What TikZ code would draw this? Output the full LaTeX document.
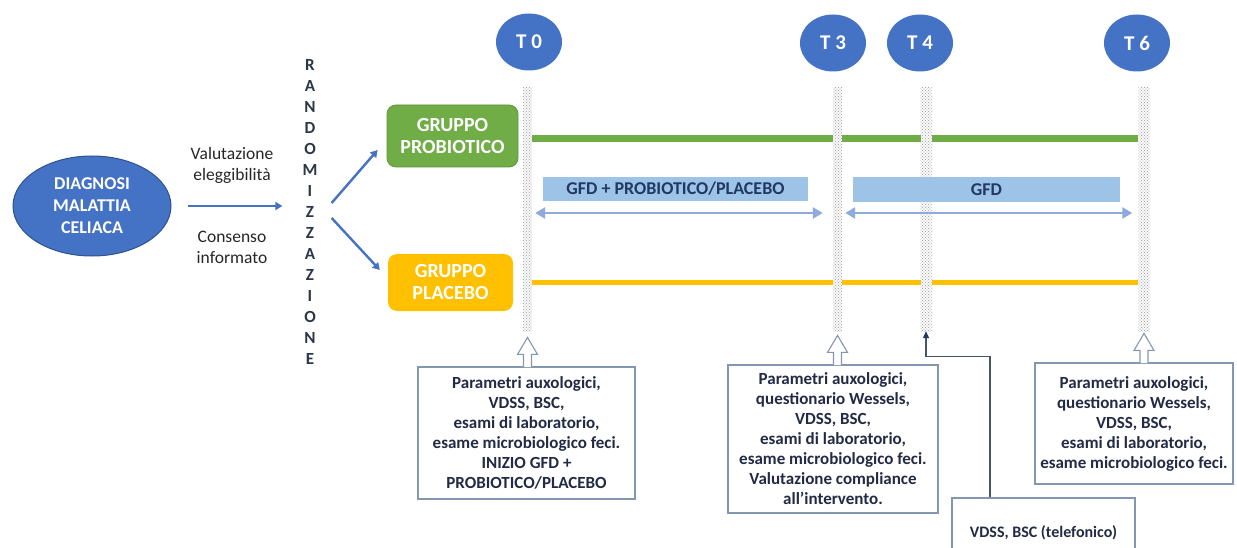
\documentclass[tikz,border=0pt]{standalone}
\usepackage{fontspec}
\setmainfont{Carlito}
\usetikzlibrary{arrows.meta,patterns,shapes.geometric,calc}

\definecolor{ofblue}{HTML}{4472C4}
\definecolor{ofblueline}{HTML}{2F528F}
\definecolor{grgreen}{HTML}{70AD47}
\definecolor{grgreenline}{HTML}{5E9639}
\definecolor{gryellow}{HTML}{FFC000}
\definecolor{lblue}{HTML}{9DC3E6}
\definecolor{navy}{HTML}{1F3864}
\definecolor{arrblue}{HTML}{8FAADC}
\definecolor{boxline}{HTML}{8497B0}
\definecolor{boxtext}{HTML}{222A45}
\definecolor{randtext}{HTML}{2B3646}
\definecolor{labeltext}{HTML}{262626}
\definecolor{connline}{HTML}{44546A}

% dot texture for the visit markers
\pgfdeclarepatternformonly{finedots}{\pgfqpoint{-0.8pt}{-0.8pt}}{\pgfqpoint{2.3pt}{2.3pt}}{\pgfqpoint{3pt}{3pt}}%
  {\pgfpathcircle{\pgfqpoint{0pt}{0pt}}{0.7pt}\pgfpathcircle{\pgfqpoint{1.5pt}{1.5pt}}{0.7pt}\pgfusepath{fill}}

\tikzset{
  lbl/.style={text=labeltext, align=center, inner sep=0pt,
    font=\fontsize{17.5}{21}\selectfont},
  grpbox/.style={rounded corners=9pt, text=white, align=center, inner sep=0pt,
    font=\bfseries\fontsize{20}{22}\selectfont},
  flow/.style={draw=ofblue, line width=2.4pt, -{Triangle[length=7pt,width=8pt]}},
  tbar/.style={inner sep=0pt, preaction={fill=white}, pattern=finedots,
    pattern color=gray!70},
  track/.style={line width=#1},
  phase/.style={fill=lblue, text=navy, inner sep=0pt,
    font=\bfseries\fontsize{18}{22}\selectfont},
  span/.style={draw=arrblue, line width=2.6pt,
    {Triangle[length=10pt,width=11pt]}-{Triangle[length=10pt,width=11pt]}},
  timept/.style={ellipse, fill=ofblue, minimum width=66pt, minimum height=57pt,
    inner sep=0pt, text=white, font=\bfseries\fontsize{21}{24}\selectfont},
  note/.style={draw=boxline, line width=1.2pt, fill=white, text=boxtext,
    align=center, inner sep=0pt, font=\bfseries\fontsize{17}{20}\selectfont},
  hollow/.style={draw=boxline, line width=1.1pt, fill=white},
  conn/.style={draw=connline, line width=1.3pt,
    -{Triangle[length=7pt,width=6pt,color=navy]}}
}

\begin{document}
\begin{tikzpicture}[x=1pt,y=-1pt]
\useasboundingbox (0,0) rectangle (1237,548);
\clip (0,0) rectangle (1237,548);

% enrolment
\node[ellipse, fill=ofblue, draw=ofblueline, line width=1pt, minimum width=158pt,
  minimum height=100pt, inner sep=0pt, text=white, align=center,
  font=\bfseries\fontsize{18}{22}\selectfont] (diag) at (92,206)
  {DIAGNOSI\\MALATTIA\\CELIACA};
\node[lbl] (val) at (232,165) {Valutazione\\eleggibilità};
\node[lbl] (cons) at (232,247) {Consenso\\informato};
\node[text=randtext, align=center, inner sep=0pt,
  font=\bfseries\fontsize{17}{21}\selectfont] (rand) at (310,212)
  {R\\A\\N\\D\\O\\M\\I\\Z\\Z\\A\\Z\\I\\O\\N\\E};

% study arms
\node[grpbox, fill=grgreen, draw=grgreenline, line width=0.8pt,
  minimum width=131pt, minimum height=62pt] (gp) at (452.5,136) {GRUPPO\\PROBIOTICO};
\node[grpbox, fill=gryellow, minimum width=125pt, minimum height=57pt]
  (gy) at (450.5,282.5) {GRUPPO\\PLACEBO};

\draw[flow, shorten <=16pt, shorten >=20pt] (diag.east) -- (diag.east -| rand.west);
\draw[flow] ([shift={(14,-9)}]rand.east) -- ([shift={(-9,14)}]gp.west);
\draw[flow] ([shift={(14,6)}]rand.east) -- ([shift={(-8,-12.5)}]gy.west);

% treatment tracks
\draw[track=7pt, grgreen] (531,139) -- (1138,139);
\draw[track=5pt, gryellow] (531,282) -- (1138,282);

% visit markers
\node[tbar, minimum width=9pt, minimum height=244pt] (bar0) at (527.5,209) {};
\node[tbar, minimum width=9pt, minimum height=244pt] (bar3) at (837.5,209) {};
\node[tbar, minimum width=11pt, minimum height=244pt] (bar4) at (926,209) {};
\node[tbar, minimum width=11pt, minimum height=244pt] (bar6) at (1144,209) {};

% visit labels
\node[timept] (t0) at (529,42) {T 0};
\node[timept] (t3) at (833,43) {T 3};
\node[timept] (t4) at (920,43) {T 4};
\node[timept] (t6) at (1137,43) {T 6};

% treatment phases
\node[phase, minimum width=265pt, minimum height=24pt] (ph1) at (675.5,189)
  {GFD + PROBIOTICO/PLACEBO};
\node[phase, minimum width=267pt, minimum height=25pt] (ph2) at (986.5,189.5) {GFD};
\coordinate (spanrow) at (0,213);
\draw[span] ([xshift=3pt]bar0.east |- spanrow) -- ([xshift=-10pt]bar3.west |- spanrow);
\draw[span] ([xshift=3pt]bar3.east |- spanrow) -- ([xshift=-6pt]bar6.west |- spanrow);

% assessments at each visit
\node[note, minimum width=217pt, minimum height=132pt] (b0) at (526.5,433)
  {Parametri auxologici,\\VDSS, BSC,\\esami di laboratorio,\\esame microbiologico feci.\\INIZIO GFD +\\PROBIOTICO/PLACEBO};
\node[note, minimum width=210pt, minimum height=148pt] (b3) at (833,439)
  {Parametri auxologici,\\questionario Wessels,\\VDSS, BSC,\\esami di laboratorio,\\esame microbiologico feci.\\Valutazione compliance\\all’intervento.};
\node[note, minimum width=198pt, minimum height=121pt] (b6) at (1134,423.5)
  {Parametri auxologici,\\questionario Wessels,\\VDSS, BSC,\\esami di laboratorio,\\esame microbiologico feci.};
\node[note, minimum width=183pt, minimum height=70pt,
  font=\bfseries\fontsize{16}{20}\selectfont] (b4) at (1043.5,533)
  {VDSS, BSC (telefonico)};

% block arrows from the boxes to their visit
\draw[hollow] (b0.north -| bar0) ++(-4,0.7) -- ++(0,-12.7) -- ++(-6,0) -- ++(10,-17)
  -- ++(10,17) -- ++(-6,0) -- ++(0,12.7);
\draw[hollow] (b3.north -| bar3) ++(-4,0.7) -- ++(0,-12.7) -- ++(-6,0) -- ++(10,-17)
  -- ++(10,17) -- ++(-6,0) -- ++(0,12.7);
\draw[hollow] (b6.north -| bar6) ++(-4,0.7) -- ++(0,-12.7) -- ++(-6,0) -- ++(10,-17)
  -- ++(10,17) -- ++(-6,0) -- ++(0,12.7);

% telephone follow-up
\draw[conn] ([xshift=-53.5pt]b4.north) -- ++(0,-141) -| (bar4.south);
\end{tikzpicture}
\end{document}
